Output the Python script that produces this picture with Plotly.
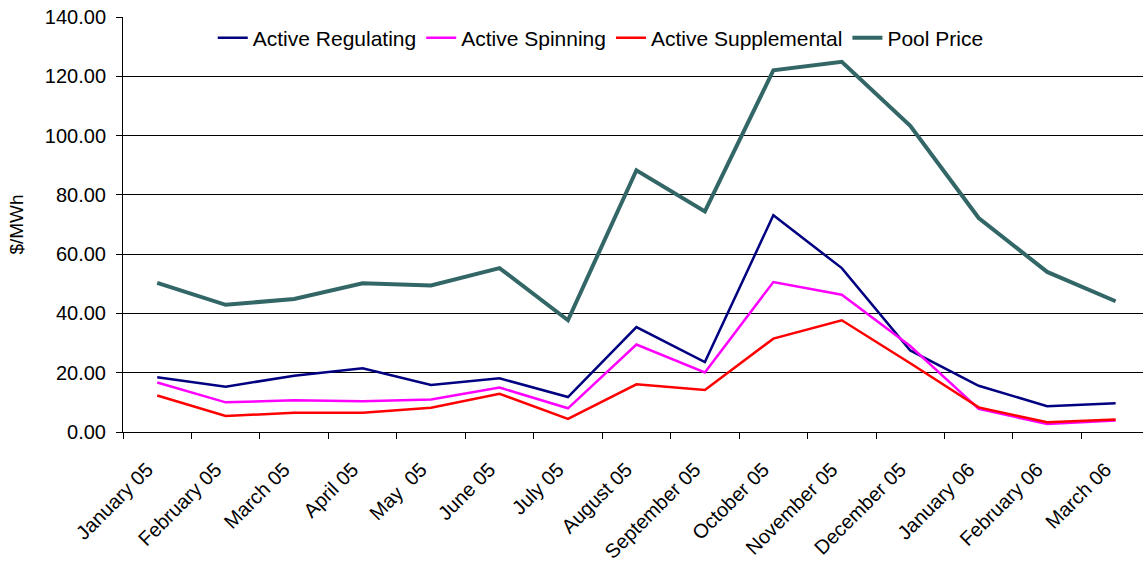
import plotly.graph_objects as go

months = ["January 05", "February 05", "March 05", "April 05", "May  05", "June 05",
          "July 05", "August 05", "September 05", "October 05", "November 05",
          "December 05", "January 06", "February 06", "March 06"]

active_regulating = [18.5, 15.3, 19.0, 21.5, 15.9, 18.1, 11.8, 35.4, 23.6, 73.1, 55.3, 27.5, 15.6, 8.7, 9.7]
active_spinning = [16.7, 10.0, 10.7, 10.4, 11.0, 15.0, 8.0, 29.5, 20.1, 50.6, 46.3, 29.0, 7.8, 2.7, 3.9]
active_supplemental = [12.3, 5.4, 6.5, 6.5, 8.2, 12.9, 4.4, 16.1, 14.2, 31.5, 37.7, 23.2, 8.3, 3.3, 4.2]
pool_price = [50.3, 42.9, 44.9, 50.2, 49.4, 55.3, 37.7, 88.3, 74.4, 122.0, 124.9, 103.3, 72.2, 54.0, 44.1]

y_ticks = [0, 20, 40, 60, 80, 100, 120, 140]

FONT = "Liberation Sans, Arial, sans-serif"

fig = go.Figure()
series = [
    ("Active Regulating", active_regulating, "#000080", 2.5),
    ("Active Spinning", active_spinning, "#FF00FF", 2.5),
    ("Active Supplemental", active_supplemental, "#FF0000", 2.5),
    ("Pool Price", pool_price, "#336666", 4),
]
for name, vals, color, w in series:
    fig.add_trace(go.Scatter(x=months, y=vals, mode="lines", name=name,
                             line=dict(color=color, width=w)))

fig.update_layout(
    width=1143, height=562,
    margin=dict(l=123, r=0, t=17, b=130),
    paper_bgcolor="white", plot_bgcolor="white",
    font=dict(family=FONT, size=20, color="black"),
    showlegend=True,
    legend=dict(orientation="h", x=0.088, xanchor="left", y=0.949, yanchor="middle",
                font=dict(family=FONT, size=21, color="black"),
                bgcolor="rgba(0,0,0,0)", itemwidth=30, tracegroupgap=0),
    xaxis=dict(type="category", range=[-0.5, 14.4], tickangle=-45, automargin=False,
               tickson="boundaries", ticks="outside", ticklen=6, tickcolor="black",
               showline=True, linecolor="black", linewidth=1, showgrid=False,
               ticklabelshift=-10, ticklabelstandoff=17,
               tickfont=dict(family=FONT, size=20)),
    yaxis=dict(range=[0, 140], tickvals=y_ticks, tickformat=".2f", automargin=False,
               ticks="outside", ticklen=6, tickcolor="black",
               showline=True, linecolor="black", linewidth=1,
               showgrid=True, gridcolor="black", gridwidth=1, zeroline=False,
               ticklabelstandoff=6,
               tickfont=dict(family=FONT, size=20),
               title=dict(text="$/MWh", font=dict(family=FONT, size=19), standoff=16)),
)

# remove the browser's default 8px body margin so the figure fills the window
fig.write_html("out.html",
               config={"displayModeBar": False},
               post_script="document.body.style.margin='0';document.body.style.overflow='hidden';")
